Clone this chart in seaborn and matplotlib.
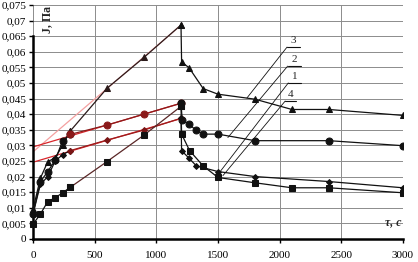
import matplotlib
matplotlib.use("Agg")
import matplotlib.pyplot as plt
import numpy as np
import pandas as pd
import seaborn as sns
from matplotlib.ticker import FuncFormatter, MultipleLocator

# rising part (loading), t in s, J in Pa
t_up = [0, 60, 120, 180, 240, 300, 600, 900, 1200]
j3_up = [0.0095, 0.0195, 0.0248, 0.0260, 0.0300, 0.0345, 0.0483, 0.0582, 0.0686]
j2_up = [0.0080, 0.0184, 0.0216, 0.0253, 0.0315, 0.0335, 0.0365, 0.0400, 0.0435]
j1_up = [0.0080, 0.0175, 0.0200, 0.0250, 0.0270, 0.0283, 0.0317, 0.0349, 0.0387]
j4_up = [0.0047, 0.0080, 0.0120, 0.0132, 0.0148, 0.0165, 0.0248, 0.0333, 0.0425]

# falling part (relaxation)
t3_dn = [1200, 1205, 1265, 1380, 1500, 1800, 2100, 2400, 3000]
j3_dn = [0.0686, 0.0567, 0.0549, 0.0482, 0.0464, 0.0448, 0.0415, 0.0415, 0.0396]
t2_dn = [1200, 1210, 1265, 1320, 1380, 1500, 1800, 2400, 3000]
j2_dn = [0.0435, 0.0381, 0.0368, 0.0349, 0.0336, 0.0336, 0.0315, 0.0315, 0.0299]
t1_dn = [1200, 1205, 1265, 1325, 1500, 1800, 2400, 3000]
j1_dn = [0.0387, 0.0283, 0.0259, 0.0234, 0.0216, 0.0200, 0.0184, 0.0164]
t4_dn = [1200, 1205, 1270, 1380, 1500, 1800, 2100, 2400, 3000]
j4_dn = [0.0425, 0.0336, 0.0283, 0.0234, 0.0197, 0.0180, 0.0164, 0.0164, 0.0148]

# curve labels and leader lines: (label, bar y, bar x0, bar x1, end t, end J)
labels = [
    ("3", 0.0615, 2060, 2165, 1735, 0.0452),
    ("2", 0.0554, 2065, 2170, 1580, 0.0325),
    ("1", 0.0500, 2070, 2170, 1510, 0.0212),
    ("4", 0.0442, 2045, 2135, 1540, 0.0203),
]

sns.set_style("white")
plt.rcParams["font.family"] = ["Liberation Serif", "DejaVu Serif"]

fig = plt.figure(figsize=(4.18, 2.62), dpi=100)
ax = fig.add_axes([0.079, 0.088, 0.885, 0.893])

curves = [
    (j3_up, t3_dn, j3_dn, "^", 5, "#2b1a1a", "#2b1a1a"),
    (j2_up, t2_dn, j2_dn, "o", 5, "#8b1a1a", "#8b1a1a"),
    (j1_up, t1_dn, j1_dn, "D", 3, "#9c1c1c", "#7a1515"),
    (j4_up, t4_dn, j4_dn, "s", 5, "#5a2626", "#111111"),
]

# fitted trend lines over the linear part of loading
t_fit = np.array(t_up[6:])
trend_cols = ["#f4a0a0", "#d8262b", "#d8262b"]
for (jup, *_), col in zip(curves[:3], trend_cols):
    k, b = np.polyfit(t_fit, np.array(jup[6:]), 1)
    tt = np.array([0, 1200])
    ax.plot(tt, k * tt + b, color=col, lw=0.9, zorder=2)

for jup, tdn, jdn, mk, ms, col, mcol in curves:
    up = pd.DataFrame({"t": t_up, "J": jup})
    dn = pd.DataFrame({"t": tdn, "J": jdn})
    sns.lineplot(data=up.iloc[:6], x="t", y="J", ax=ax, color="#111111", lw=0.9,
                 marker=mk, markersize=ms, markeredgecolor="#111111",
                 markerfacecolor="#111111", estimator=None, sort=False, zorder=3,
                 clip_on=False)
    sns.lineplot(data=up.iloc[5:], x="t", y="J", ax=ax, color=col, lw=0.9,
                 marker=mk, markersize=ms, markeredgecolor=mcol,
                 markerfacecolor=mcol, estimator=None, sort=False, zorder=3)
    sns.lineplot(data=dn, x="t", y="J", ax=ax, color="#111111", lw=0.9,
                 marker=mk, markersize=ms, markeredgecolor="#111111",
                 markerfacecolor="#111111", estimator=None, sort=False, zorder=3)

for lab, by, bx0, bx1, et, ej in labels:
    ax.plot([bx0, bx1], [by, by], color="#111111", lw=0.8)
    ax.plot([bx0, et], [by, ej], color="#111111", lw=0.6)
    ax.text((bx0 + bx1) / 2, by + 0.0007, lab, ha="center", va="bottom", fontsize=8)

ax.set_xlim(0, 3000)
ax.set_ylim(0, 0.075)
ax.xaxis.set_major_locator(MultipleLocator(500))
ax.yaxis.set_major_locator(MultipleLocator(0.005))
ax.yaxis.set_major_formatter(FuncFormatter(
    lambda v, p: "0" if abs(v) < 1e-9 else f"{v:.3f}".rstrip("0").replace(".", ",")))
ax.grid(True, color="#8c8c8c", lw=0.7)
ax.set_axisbelow(True)

for s in ["top", "right"]:
    ax.spines[s].set_visible(False)
ax.spines["left"].set_bounds(0, 0.065)
ax.spines["left"].set_linewidth(1.8)
ax.spines["bottom"].set_linewidth(1.8)
ax.spines["left"].set_color("black")
ax.spines["bottom"].set_color("black")
ax.tick_params(axis="both", labelsize=8, length=3, width=1, direction="out",
               left=True, bottom=True, pad=2, colors="black")
ax.tick_params(axis="x", pad=6)
ax.set_xlabel("")
ax.set_ylabel("")

ax.text(0.022, 0.995, "J, Па", transform=ax.transAxes, rotation=90, ha="left",
        va="top", fontsize=8.5, fontweight="bold")
ax.text(0.995, 0.045, "τ, с", transform=ax.transAxes, ha="right", va="bottom",
        fontsize=8.5, fontweight="bold", fontstyle="italic")

fig.savefig("out.png", dpi=100)
